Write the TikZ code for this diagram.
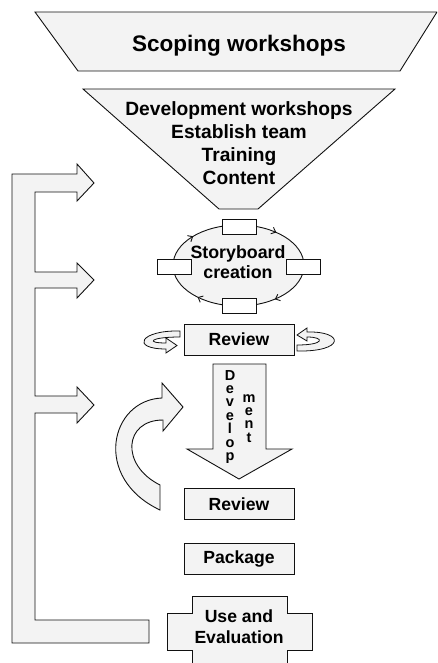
\documentclass[tikz,border=0pt]{standalone}
\usepackage{fontspec}
\setmainfont{Liberation Sans}
\usepackage{xcolor}
\usepackage{tikz}
\usetikzlibrary{positioning,arrows.meta,decorations.markings}
\definecolor{shade}{HTML}{F3F3F3}
\definecolor{ink}{HTML}{111111}

\begin{document}
\begin{tikzpicture}[
  x=1pt, y=-1pt,
  every node/.style={align=center, font=\bfseries},
  blob/.style={fill=shade, draw=ink, line width=0.9pt, line join=miter},
  box/.style={
    rectangle, fill=shade, draw=ink, line width=0.9pt,
    minimum width=110, minimum height=31, inner sep=0pt,
    font=\fontsize{17.6}{20}\selectfont\bfseries
  },
  tab/.style={rectangle, fill=white, draw=ink, line width=0.8pt, minimum width=34, minimum height=15, inner sep=0pt},
  big/.style={font=\fontsize{17.6}{20.5}\selectfont\bfseries},
  letters/.style={font=\fontsize{14.5}{13.4}\selectfont\bfseries, inner sep=0pt},
  tick/.style={decoration={markings,
      mark=at position 0.14 with {\arrow{Straight Barb[length=4pt,width=7pt]}},
      mark=at position 0.375 with {\arrow{Straight Barb[length=4pt,width=7pt]}},
      mark=at position 0.61 with {\arrow{Straight Barb[length=4pt,width=7pt]}},
      mark=at position 0.865 with {\arrow{Straight Barb[length=4pt,width=7pt]}}},
    postaction={decorate}},
]
\clip (0,0) rectangle (437,663);

% Top: scoping band and the funnel below it
\draw[blob] (35,12) -- (437,12) -- (400,71) -- (78,71) -- cycle;
\node[anchor=base, font=\fontsize{22.5}{26}\selectfont\bfseries] (scoping) at (239,52) {Scoping workshops};

\draw[blob] (83,89) -- (395,89) -- (258,209) -- (219,209) -- cycle;
% multi-line nodes sit on the baseline of their last line
\node[anchor=base, font=\fontsize{19.2}{23}\selectfont\bfseries] (devws) at (239,184)
  {Development workshops\\Establish team\\Training\\Content};

% Storyboard cycle
\draw[blob, tick] (238.5,265.5) ellipse [x radius=65.5, y radius=40.5];
\node[anchor=base, font=\fontsize{17.8}{20}\selectfont\bfseries] (story) at (238,278) {Storyboard\\creation};
\node[tab] (tabtop)    at (239,226.5) {};
\node[tab] (tableft)   at (174,266.5) {};
\node[tab] (tabright)  at (303,266.5) {};
\node[tab] (tabbottom) at (239,305.5) {};

% First review with its two loops
\node[box] (review1) at (239,339.5) {Review};
\draw[blob, line width=0.8pt] (180,331) .. controls (140,330) and (130,349) .. (166,349)
  -- (166,353) -- (177,345.5) -- (166,338) -- (166,343)
  .. controls (145,343) and (150,337) .. (180,337) -- cycle;
\draw[blob, line width=0.8pt] (297,351) .. controls (345,352) and (345,331) .. (307,332)
  -- (307,328) -- (297,335) -- (307,341) -- (307,337)
  .. controls (325,337) and (325,345) .. (297,345) -- cycle;

% Development arrow and the loop back beside it
\draw[blob] (213,364) -- (266,364) -- (266,449) -- (292,449) -- (239,479) -- (187,449) -- (213,449) -- cycle;
\node[letters, anchor=base] (devel) at (230,460.4) {D\\e\\v\\e\\l\\o\\p};
\node[letters, anchor=base] (ment)  at (249,442.2) {m\\e\\n\\t};
\draw[blob] (162,398) .. controls (110,400) and (92,478) .. (160,510) -- (160,485)
  .. controls (120,465) and (124,420) .. (163,420) -- (163,431) -- (183,407) -- (162,383) -- cycle;

% Lower steps
\node[box] (review2) at (239,504) {Review};
\node[box] (package) at (239,559) {Package};
\draw[blob] (192,596) -- (287,596) -- (287,613) -- (312,613) -- (312,650) -- (287,650) -- (287,680)
  -- (192,680) -- (192,650) -- (167,650) -- (167,613) -- (192,613) -- cycle;
\node[big, anchor=base] (useeval) at (239,643) {Use and\\Evaluation};

% Feedback bracket on the left
\draw[blob] (12,174) -- (77,174) -- (77,164) -- (94,183) -- (77,201) -- (77,192) -- (35,192)
  -- (35,272) -- (77,272) -- (77,263) -- (94,280) -- (77,298) -- (77,288) -- (35,288)
  -- (35,396) -- (77,396) -- (77,387) -- (94,405) -- (77,423) -- (77,413) -- (35,413)
  -- (35,620) -- (149,620) -- (149,643) -- (12,643) -- cycle;
\end{tikzpicture}
\end{document}
